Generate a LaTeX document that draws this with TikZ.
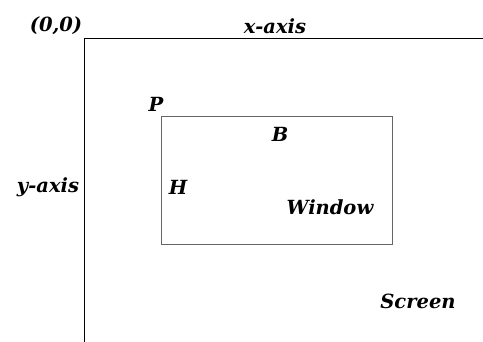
\documentclass[tikz,border=0pt]{standalone}
\usepackage{fontspec}
\setmainfont{DejaVu Serif}
\begin{document}
\begin{tikzpicture}[x=1pt,y=-1pt,
  lbl/.style={font=\fontsize{19.5}{22}\selectfont\bfseries\itshape, inner sep=0pt, anchor=center},
  axis/.style={draw=black, line width=1pt},
  win/.style={draw=black!60, line width=0.9pt, minimum width=231pt, minimum height=128pt, inner sep=0pt}]
\useasboundingbox (0,0) rectangle (483,342);
\coordinate (o) at (84,39);
\coordinate (xe) at (483,39);
\coordinate (ye) at (84,342);
\draw[axis] (xe) -- (o) -- (ye);
\node[win] (window) at (276.5,180) {};
\node[lbl] (orig) at (56,26) {(0,0)};
\node[lbl] (xax) at (275,26) {x-axis};
\node[lbl] (yax) at (48,187) {y-axis};
\node[lbl] (p) at (156,104) {P};
\node[lbl] (b) at (280,134) {B};
\node[lbl] (h) at (178,187) {H};
\node[lbl] (wl) at (330,207) {Window};
\node[lbl] (scr) at (418,301) {Screen};
\end{tikzpicture}
\end{document}
